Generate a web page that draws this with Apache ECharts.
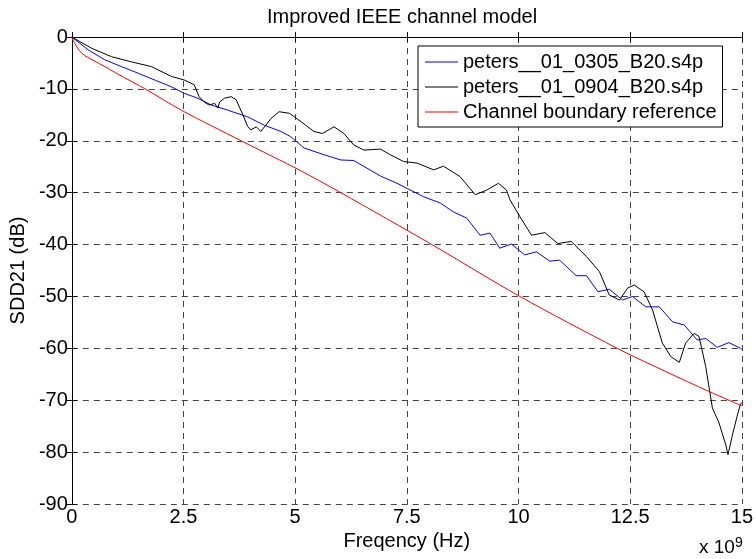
<!DOCTYPE html>
<html>
<head>
<meta charset="utf-8">
<script src="https://cdn.jsdelivr.net/npm/echarts@6/dist/echarts.min.js"></script>
<style>
  html, body { margin: 0; padding: 0; background: #fff; }
  #main { width: 756px; height: 559px; }
</style>
</head>
<body>
<div id="main"></div>
<script>
// 频率 (x 10^9 Hz) 与 SDD21 (dB)
var blueFreq = [0, 0.37, 0.74, 1.11, 1.49, 1.86, 2.23, 2.53, 2.82, 3.12, 3.49, 3.94, 4.31, 4.68, 4.9,
  5.2, 5.65, 6.02, 6.31, 6.61, 6.91, 7.28, 7.51, 7.88, 8.25, 8.54, 8.84, 9.14, 9.36, 9.58, 9.84,
  10.14, 10.4, 10.7, 10.92, 11.29, 11.52, 11.78, 12.03, 12.33, 12.55, 12.85, 13.15, 13.45, 13.71,
  14.0, 14.19, 14.45, 14.71, 14.97, 15];
var blueDb = [0, -2.5, -4.4, -5.7, -7.0, -8.3, -9.6, -10.9, -11.8, -13.1, -14.1, -15.4, -17.0, -18.2, -19.2,
  -21.4, -22.7, -23.7, -23.8, -25.3, -26.8, -28.2, -29.2, -30.8, -32.0, -33.7, -34.9, -38.2, -37.8, -40.7, -39.9,
  -42.0, -41.4, -43.2, -43.0, -46.0, -46.0, -49.1, -48.6, -50.7, -50.0, -52.0, -52.0, -54.9, -55.5,
  -58.4, -58.1, -59.8, -58.9, -60.0, -60.2];

var blackFreq = [0, 0.45, 0.89, 1.34, 1.78, 2.23, 2.52, 2.74, 2.85, 2.96, 3.07, 3.2, 3.27, 3.31, 3.42, 3.57,
  3.68, 3.83, 3.94, 4.01, 4.13, 4.23, 4.38, 4.46, 4.64, 4.87, 5.13, 5.42, 5.61, 5.87, 6.09, 6.31,
  6.54, 6.91, 7.13, 7.43, 7.73, 8.1, 8.32, 8.69, 9.03, 9.29, 9.55, 9.73, 9.81, 10.03, 10.29, 10.59,
  10.88, 11.18, 11.52, 11.81, 12.03, 12.26, 12.44, 12.59, 12.81, 13.0, 13.22, 13.41, 13.6, 13.74,
  13.93, 14.04, 14.19, 14.34, 14.49, 14.64, 14.69, 14.78, 14.89, 14.97, 15];
var blackDb = [0, -2.2, -3.8, -4.8, -5.7, -7.6, -8.3, -9.2, -11.5, -12.5, -13.1, -12.8, -13.7, -12.5, -11.8, -11.5,
  -12.1, -15.0, -17.3, -17.9, -17.3, -18.2, -16.6, -15.7, -14.4, -14.7, -16.3, -18.2, -18.6, -17.3, -18.6, -20.8,
  -21.8, -21.6, -22.7, -24.0, -24.3, -25.6, -24.9, -26.9, -30.4, -29.5, -28.2, -29.5, -31.4, -34.6, -38.2, -37.7,
  -39.8, -39.4, -42.3, -45.2, -49.7, -50.7, -48.4, -47.8, -49.1, -52.6, -59.0, -61.6, -62.7, -59.0,
  -57.1, -57.7, -63.5, -71.5, -74.4, -78.6, -80.5, -77.0, -73.2, -70.7, -70.5];

var redFreq = [0, 0.05, 0.22, 0.5, 0.74, 1.0, 1.64, 2.45, 3.79, 5.13, 6.02, 8.06, 10.03, 12.21, 13.3, 14.26, 14.71, 15];
var redDb = [0, -1.0, -3.1, -4.6, -5.7, -7.0, -10.0, -14.1, -20.0, -25.8, -30.0, -40.0, -50.0, -60.0, -64.5, -68.3, -70.0, -71.1];

var seriesNames = ['peters__01_0305_B20.s4p', 'peters__01_0904_B20.s4p', 'Channel boundary reference'];
var seriesColors = ['#0000ff', '#000000', '#ff0000'];

function zip(xs, ys) {
  return xs.map(function (x, i) { return [x, ys[i]]; });
}

var myChart = echarts.init(document.getElementById('main'));
var font = 'Liberation Sans, Arial, sans-serif';
var gridLine = { show: true, lineStyle: { color: '#444', type: [6, 5], width: 1 } };
var axisLine = { show: true, lineStyle: { color: '#000', width: 1 } };
var tickIn = { show: true, inside: true, length: 5, lineStyle: { color: '#000' } };

var option = {
  animation: false,
  backgroundColor: '#fff',
  title: {
    text: 'Improved IEEE channel model',
    left: 402, top: 7, padding: 0, textAlign: 'center',
    textStyle: { fontFamily: font, fontSize: 20, fontWeight: 'normal', color: '#000' }
  },
  grid: { left: 70, right: 13, top: 37, bottom: 55 },
  legend: {
    orient: 'vertical',
    left: 418, top: 46,
    padding: [6, 6, 5, 7],
    itemGap: 5,
    itemWidth: 33, itemHeight: 1,
    icon: 'rect',
    backgroundColor: '#fff',
    borderColor: '#000', borderWidth: 1,
    textStyle: { fontFamily: font, fontSize: 20, color: '#000', lineHeight: 20 },
    data: seriesNames
  },
  xAxis: [{
    type: 'value', min: 0, max: 15, interval: 2.5,
    name: 'Freqency (Hz)', nameLocation: 'middle', nameGap: 25,
    nameTextStyle: { fontFamily: font, fontSize: 20, color: '#000' },
    axisLine: axisLine, axisTick: tickIn, splitLine: gridLine,
    axisLabel: { margin: 3, fontFamily: font, fontSize: 20, color: '#000' }
  }, {
    type: 'value', min: 0, max: 15, interval: 2.5, position: 'top',
    axisLine: axisLine, axisTick: tickIn, splitLine: { show: false },
    axisLabel: { show: false }
  }],
  yAxis: [{
    type: 'value', min: -90, max: 0, interval: 10,
    name: 'SDD21 (dB)', nameLocation: 'middle', nameGap: 40, nameRotate: 90,
    nameTextStyle: { fontFamily: font, fontSize: 20, color: '#000' },
    axisLine: axisLine, axisTick: tickIn, splitLine: gridLine,
    axisLabel: { margin: 4, fontFamily: font, fontSize: 20, color: '#000' }
  }, {
    type: 'value', min: -90, max: 0, interval: 10, position: 'right',
    axisLine: axisLine, axisTick: tickIn, splitLine: { show: false },
    axisLabel: { show: false }
  }],
  graphic: [{
    type: 'text', left: 699, top: 536,
    style: {
      text: 'x 10{s|9}',
      fontFamily: font, fontSize: 19, fill: '#000',
      rich: { s: { fontFamily: font, fontSize: 14, verticalAlign: 'top', padding: [0, 0, 10, 0] } }
    }
  }],
  series: [
    { name: seriesNames[0], type: 'line', data: zip(blueFreq, blueDb), showSymbol: false, symbol: 'none',
      lineStyle: { color: seriesColors[0], width: 1 }, itemStyle: { color: seriesColors[0] } },
    { name: seriesNames[1], type: 'line', data: zip(blackFreq, blackDb), showSymbol: false, symbol: 'none',
      lineStyle: { color: seriesColors[1], width: 1 }, itemStyle: { color: seriesColors[1] } },
    { name: seriesNames[2], type: 'line', data: zip(redFreq, redDb), showSymbol: false, symbol: 'none', smooth: 0.3,
      lineStyle: { color: seriesColors[2], width: 1 }, itemStyle: { color: seriesColors[2] } }
  ]
};

myChart.setOption(option);
</script>
</body>
</html>
